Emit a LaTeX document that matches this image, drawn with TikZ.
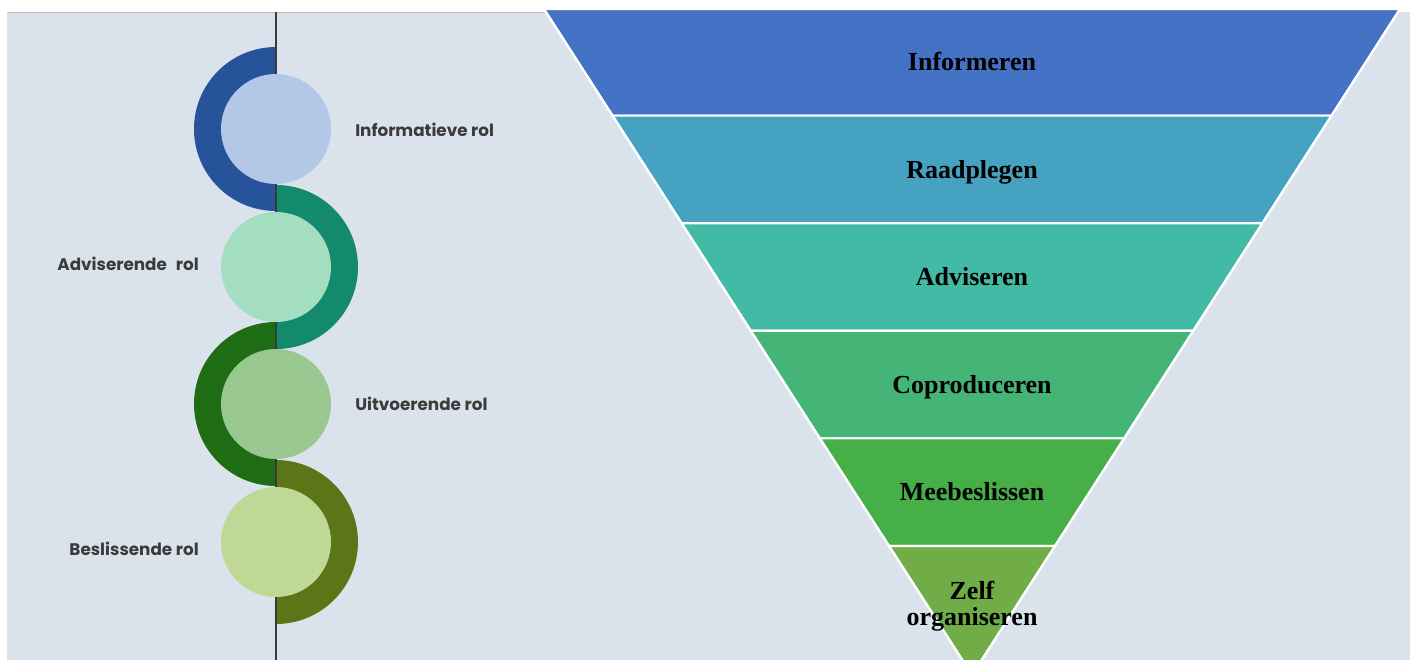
\documentclass[tikz,border=0pt]{standalone}
\usepackage{fontspec}
\setmainfont{Liberation Serif}
\newfontfamily\popfont{Poppins}
\definecolor{bgc}{HTML}{DAE3EB}
\definecolor{linec}{HTML}{3A3A3A}
\definecolor{labc}{HTML}{3B3B3B}
\definecolor{ringA}{HTML}{27539A}\definecolor{inA}{HTML}{B3C7E7}
\definecolor{ringB}{HTML}{128A6B}\definecolor{inB}{HTML}{A2DEBF}
\definecolor{ringC}{HTML}{1E6C13}\definecolor{inC}{HTML}{98C890}
\definecolor{ringD}{HTML}{5A7616}\definecolor{inD}{HTML}{BFD895}
\definecolor{fA}{HTML}{4472C4}
\definecolor{fB}{HTML}{45A3C1}
\definecolor{fC}{HTML}{43BAA5}
\definecolor{fD}{HTML}{44B577}
\definecolor{fE}{HTML}{47AF47}
\definecolor{fF}{HTML}{70AD47}
\tikzset{
  rollabel/.style={font=\popfont\bfseries\fontsize{12.6pt}{14pt}\selectfont, text=labc, inner sep=0pt},
  bandlabel/.style={font=\bfseries\fontsize{19.5pt}{19.5pt}\selectfont, text=black, align=center, inner sep=0pt, anchor=base},
  band/.style={draw=white, line width=1.6pt, line join=miter},
}
\begin{document}
\begin{tikzpicture}[x=0.75pt,y=-0.75pt]
\useasboundingbox (0,0) rectangle (1410,660);
\clip (0,0) rectangle (1410,660);
% background
\fill[bgc] (7,12) rectangle (1410,660);
\draw[color=black!25, line width=0.6pt] (7,12) -- (545,12);
% rings
\fill[ringA] (276,47) arc[start angle=90, end angle=270, radius=61.5pt] -- cycle;
\fill[ringB] (276,185) arc[start angle=90, end angle=-90, radius=61.5pt] -- cycle;
\fill[ringC] (276,322) arc[start angle=90, end angle=270, radius=61.5pt] -- cycle;
\fill[ringD] (276,460) arc[start angle=90, end angle=-90, radius=61.5pt] -- cycle;
% vertical line
\draw[linec, line width=1.5pt] (276,12) -- (276,660);
% inner circles
\fill[inA] (276,129) circle[radius=41.25pt];
\fill[inB] (276,267) circle[radius=41.25pt];
\fill[inC] (276,404) circle[radius=41.25pt];
\fill[inD] (276,542) circle[radius=41.25pt];
% role labels
\node[rollabel, anchor=base west] (l1) at (355,137) {Informatieve rol};
\node[rollabel, anchor=base east] (l2) at (199,270) {Adviserende\hspace{4pt} rol};
\node[rollabel, anchor=base west] (l3) at (355,410) {Uitvoerende rol};
\node[rollabel, anchor=base east] (l4) at (199,555) {Beslissende rol};
% funnel: centre 972, top y=9 half width 428, apex y=675
\fill[band, fill=fA] (544,9) -- (1400,9) -- (1331.5,115.6) -- (612.5,115.6) -- cycle;
\fill[band, fill=fB] (612.5,115.6) -- (1331.5,115.6) -- (1262.4,223.2) -- (681.6,223.2) -- cycle;
\fill[band, fill=fC] (681.6,223.2) -- (1262.4,223.2) -- (1193.3,330.8) -- (750.7,330.8) -- cycle;
\fill[band, fill=fD] (750.7,330.8) -- (1193.3,330.8) -- (1124.2,438.4) -- (819.8,438.4) -- cycle;
\fill[band, fill=fE] (819.8,438.4) -- (1124.2,438.4) -- (1055.0,546) -- (889.0,546) -- cycle;
\fill[band, fill=fF] (889.0,546) -- (1055.0,546) -- (972,675) -- cycle;
\draw[band] (544,9) -- (972,675) -- (1400,9);
% funnel labels
\node[bandlabel] (b1) at (972,71) {Informeren};
\node[bandlabel] (b2) at (972,178) {Raadplegen};
\node[bandlabel] (b3) at (972,285.5) {Adviseren};
\node[bandlabel] (b4) at (972,393) {Coproduceren};
\node[bandlabel] (b5) at (972,500.5) {Meebeslissen};
\node[bandlabel] (b6a) at (972,599) {Zelf};
\node[bandlabel] (b6b) at (972,625) {organiseren};
\end{tikzpicture}
\end{document}
